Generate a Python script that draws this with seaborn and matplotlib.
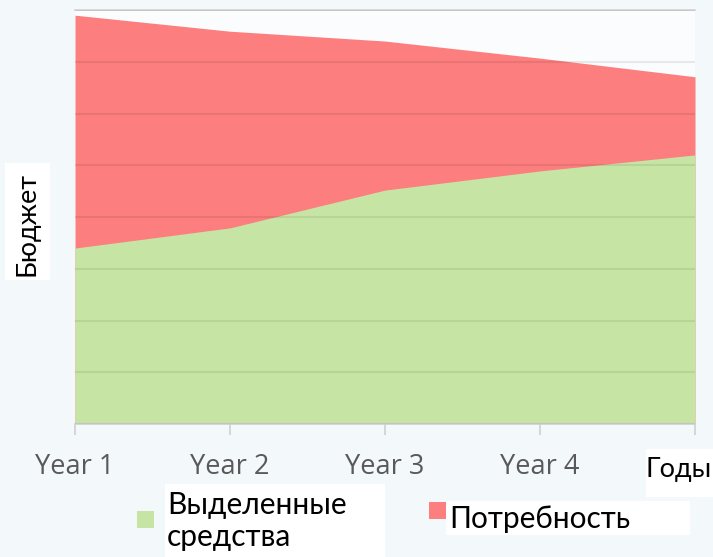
# %% IMPORTS
import matplotlib
matplotlib.use("Agg")
from matplotlib import pyplot as plt
from matplotlib.patches import Rectangle
import seaborn as sns
import pandas as pd

# %% DATA
years = ["Year 1", "Year 2", "Year 3", "Year 4", "Year 5"]
need = [7.90, 7.59, 7.40, 7.07, 6.71]        # Потребность
allocated = [3.40, 3.79, 4.52, 4.89, 5.20]   # Выделенные средства
tick_labels = ["Year 1", "Year 2", "Year 3", "Year 4", ""]

GREEN = "#c6e5a5"
RED = "#fc7e7e"
W, H = 713, 557


def white_box(fig, x0, y0, x1, y1):
    # pixel box (top-left origin) -> white rectangle behind a text
    fig.patches.append(Rectangle((x0 / W, 1 - y1 / H), (x1 - x0) / W, (y1 - y0) / H,
                                 transform=fig.transFigure, facecolor="white",
                                 edgecolor="none", zorder=0))


# %% PLOT
sns.set_theme(style="white")
plt.rcParams["font.family"] = ["Open Sans", "DejaVu Sans"]

df = pd.DataFrame({"x": range(len(years)), "need": need, "allocated": allocated})

fig = plt.figure(figsize=(W / 100, H / 100), dpi=100, facecolor="#f3f8fb")
ax = fig.add_axes([75 / W, 1 - 424 / H, 620 / W, 414 / H])
ax.set_facecolor("#fafcfd")

# area outlines through seaborn, filled below
sns.lineplot(data=df, x="x", y="need", ax=ax, color=RED, linewidth=0)
sns.lineplot(data=df, x="x", y="allocated", ax=ax, color=GREEN, linewidth=0)
ax.fill_between(df["x"], 0, df["need"], color=RED, linewidth=0, zorder=1)
ax.fill_between(df["x"], 0, df["allocated"], color=GREEN, linewidth=0, zorder=1.5)

ax.set_xlim(0, 4)
ax.set_ylim(0, 8)
ax.set_yticks(range(0, 9))
ax.set_yticklabels([])
ax.tick_params(axis="y", length=0)
ax.yaxis.grid(True, color="black", alpha=0.08, linewidth=1.5, zorder=3)
ax.set_axisbelow(False)

ax.set_xticks(df["x"])
ax.set_xticklabels(tick_labels, fontsize=19.5, color="#595959")
ax.tick_params(axis="x", length=8, width=1.2, color="#d0d0d0", pad=13,
               direction="out", bottom=True)

for s in ["left", "right"]:
    ax.spines[s].set_visible(False)
for s in ["bottom", "top"]:
    ax.spines[s].set_color("#d6d6d6")
    ax.spines[s].set_linewidth(1.3)
ax.set_xlabel("")
ax.set_ylabel("")

# axis titles in white boxes
white_box(fig, 5, 163, 50, 280)
white_box(fig, 646, 449, 713, 497)
fig.text(27 / W, 1 - 224 / H, "Бюджет", rotation=90, ha="center", va="center",
         fontsize=19.5, family=["Lato", "DejaVu Sans"], color="black")
fig.text(679 / W, 1 - 470 / H, "Годы", ha="center", va="center",
         fontsize=19.5, family=["Lato", "DejaVu Sans"], color="black")

# legend
white_box(fig, 165, 484, 385, 557)
white_box(fig, 446, 501, 690, 535)
fig.patches.append(Rectangle((137 / W, 1 - 528 / H), 17 / W, 17 / H,
                             transform=fig.transFigure, facecolor=GREEN, edgecolor="none"))
fig.patches.append(Rectangle((429 / W, 1 - 519 / H), 17 / W, 17 / H,
                             transform=fig.transFigure, facecolor=RED, edgecolor="none"))
fig.text(167 / W, 1 - 521 / H, "Выделенные\nсредства", ha="left", va="center",
         fontsize=21.5, linespacing=1.2, family=["Lato", "DejaVu Sans"], color="black")
fig.text(449 / W, 1 - 519 / H, "Потребность", ha="left", va="center",
         fontsize=21.5, family=["Lato", "DejaVu Sans"], color="black")

fig.savefig("out.png", dpi=100, facecolor=fig.get_facecolor())
